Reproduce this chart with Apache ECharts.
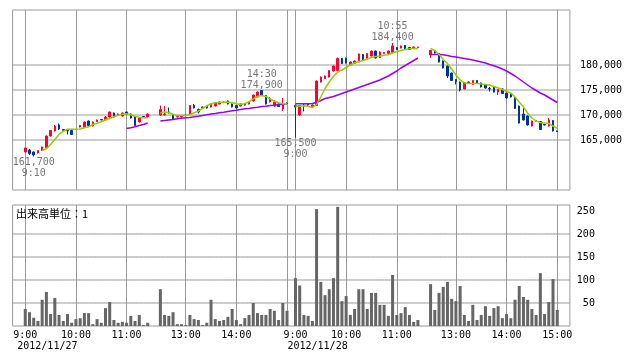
<!DOCTYPE html>
<html><head><meta charset="utf-8">
<script src="https://cdn.jsdelivr.net/npm/echarts@6/dist/echarts.min.js"></script>
<style>html,body{margin:0;padding:0;background:#fff}#c{width:638px;height:362px}</style>
</head><body><div id="c"></div>
<script>
// ---- data ----
const dates = ['2012/11/27', '2012/11/28'];
const sessionTimes = ['9:00','9:05','9:10','9:15','9:20','9:25','9:30','9:35','9:40','9:45','9:50','9:55',
  '10:00','10:05','10:10','10:15','10:20','10:25','10:30','10:35','10:40','10:45','10:50','10:55',
  '11:00','11:05','11:10','11:15','11:20','11:25','11:30','',
  '12:30','12:35','12:40','12:45','12:50','12:55',
  '13:00','13:05','13:10','13:15','13:20','13:25','13:30','13:35','13:40','13:45','13:50','13:55',
  '14:00','14:05','14:10','14:15','14:20','14:25','14:30','14:35','14:40','14:45','14:50','14:55','15:00'];
const hourMarks = ['9:00','10:00','11:00','13:00','14:00','15:00'];
const priceTicks = [165000, 170000, 175000, 180000];
const volumeTicks = [50, 100, 150, 200, 250];
const volumeGridTicks = [50, 100, 150, 200];

// [open, close, low, high]
const day1Ohlc = [
[162600,163400,162500,163500],[163000,162300,162000,163200],[162600,162000,161700,162700],[162400,162900,162300,163000],
[162900,163600,162800,163700],[163500,165800,163400,165900],[165800,166900,165700,167000],[166800,167800,166700,168000],
[168000,167200,167000,168300],[167100,166900,166800,167200],[166900,166800,166100,167000],[166900,166100,166000,167000],
[167100,167100,167100,167100],[167600,167900,167500,168000],[167500,168600,167400,168700],[168800,167900,167800,168900],
[167800,168600,167700,168700],[168700,169000,168600,169100],[169100,169000,168900,169100],[169000,169600,168900,169800],
[169600,170600,169500,170700],[170400,169600,169500,170500],[169900,170200,169800,170300],[169800,170400,169700,170500],
[170600,170200,170100,170700],[170200,169400,169300,170300],[169600,167900,167800,169700],[168600,169400,168500,169500],
[169700,169600,169500,169800],[169600,170200,169500,170300],
null,null,
[170000,171100,169800,171900],[170000,170200,169900,171800],[170600,170400,170300,171500],[170100,169200,169100,170200],
[169600,169700,169500,169800],[169600,169900,169500,170000],[169900,170000,169800,170100],[170200,171900,170100,172000],
[171900,171400,171300,172200],[171100,170600,170300,171300],[171600,171500,171400,171700],[171700,171400,171300,171800],
[171600,172200,171500,172300],[171800,172400,171700,172500],[172200,172600,172100,172700],[172500,172600,172400,172700],
[172800,172200,172100,172900],[172200,171600,171500,172300],[171900,171400,171300,172000],[171800,172200,171700,172300],
[172200,172000,171900,172300],[172200,172600,172100,172700],[172800,174000,172700,174100],[173600,174600,173500,174700],
[174900,173900,173800,174900],[173900,172200,172100,174000],[172600,173300,172500,173600],[171800,172600,171600,173000],
[172200,171700,171600,172300],[171200,172300,170800,173400],[172400,172300,172200,172500]];
const day2Ohlc = [
[171900,171600,165500,172100],[170000,171900,169800,172000],[172000,171800,170700,172400],[172300,172000,171700,172400],
[171600,172000,171500,172100],[171900,176800,171800,176900],[176600,177600,176500,177700],[177300,177800,177200,177900],
[177600,178900,177500,179000],[178800,179800,178700,179900],[178900,181300,178800,181500],[181300,180300,180200,181400],
[181300,180400,180300,181500],[180000,180600,179900,180700],[180300,180800,180200,180900],[180600,182200,180500,182300],
[182100,181100,181000,182200],[181200,182300,181100,182400],[181800,182800,181700,182900],[182800,181400,181300,182900],
[181500,182600,181400,182700],[182300,182500,182200,182600],[182300,182800,182200,182900],[182500,183800,182400,184400],
[183500,183100,183000,183600],[183400,183800,183300,183900],[183900,183300,183200,184000],[183500,183100,183000,183600],
[183300,183600,183200,183700],[183500,183600,183400,183700],
null,null,
[182000,182900,181400,183000],[182900,182400,182300,183000],[182300,180600,180500,182400],[180800,179400,179300,180900],
[179800,177800,177400,179900],[178400,176900,176800,178500],[177100,176700,176100,177200],[176600,175000,174700,176700],
[175200,176400,175100,176500],[176600,176500,176400,176700],[176100,176900,176000,177000],[176900,176400,176300,177000],
[176400,175600,175500,176500],[176100,175400,175300,176200],[175300,175200,174700,175600],[175600,174600,174500,175700],
[174600,175100,174000,175200],[175200,174300,174200,175300],[174400,173400,173300,174500],[174200,173600,173500,174300],
[173500,171300,171200,173600],[171800,168400,168300,171900],[170200,169000,168900,171500],[169800,168000,167900,169900],
[167800,168800,167700,168900],[168900,168800,168700,169000],[168700,167100,167000,168800],[168100,168000,167900,168200],
[167800,169000,167700,169400],[168900,166800,166700,169000],[166800,166700,166600,166900]];

const day1Volume = [37,30,18,11,57,74,26,61,24,11,26,7,15,17,28,28,4,15,7,39,52,13,7,9,7,22,11,24,2,7,null,null,
  80,24,22,30,4,4,2,24,15,13,2,7,57,15,11,13,20,37,13,4,17,24,50,28,24,24,37,33,13,50,33];
const day2Volume = [104,88,24,22,11,254,96,67,80,104,259,54,65,24,37,80,80,37,72,72,46,46,22,111,24,28,41,24,9,13,null,null,
  91,35,72,85,96,59,54,87,24,11,46,13,24,43,22,39,43,17,26,17,57,87,63,57,37,24,115,26,52,102,35];

const day1MaShort = [null,null,null,null,162900,163240,164100,165100,166100,166760,167160,167160,167160,167200,167440,167640,
  168100,168360,168640,169040,169300,169640,169960,170160,170240,170040,169760,169560,169440,169440,null,null,
  170400,170600,170500,170100,169900,169900,169900,170040,170440,170760,171300,171840,172240,172440,172560,172560,172560,
  172440,172240,172100,172240,172640,173240,173700,173900,173700,173240,172760,172440,172240,172240];
const day2MaShort = [171760,171760,171840,171760,171500,172100,173600,175300,176600,177700,178600,179000,179500,180000,
  180400,180700,180900,181200,181500,181700,181800,181960,182040,182400,182700,182900,183100,183240,183300,183300,null,null,
  183300,182900,182100,181100,180300,179200,178000,177000,176440,176300,176300,176300,176200,176100,176000,175700,175400,
  175100,174700,174400,173600,172600,171600,170400,169400,168800,168500,168400,168300,167800,167340];
const day1MaLong = [null,null,null,null,null,null,null,null,null,null,null,null,null,null,null,null,null,null,null,null,
  null,null,null,null,167300,167440,167640,167900,168100,168400,null,null,
  168800,168900,169000,169100,169240,169360,169440,169500,169640,169760,169900,170040,170200,170300,170440,170560,170700,
  170840,170960,171100,171240,171300,171440,171560,171700,171760,171900,171960,172100,172160,172240];
const day2MaLong = [172240,172240,172240,172240,172300,172500,172900,173300,173500,173700,174000,174300,174600,174900,
  175200,175500,175800,176100,176400,176700,177000,177400,177800,178300,178800,179400,179900,180400,180900,181400,null,null,
  182100,182100,182100,182040,181900,181700,181600,181440,181300,181160,181000,180800,180600,180400,180100,179840,179560,
  179200,178800,178300,177800,177200,176600,176000,175400,174900,174400,174000,173500,173000,172500];

const annotations = [
  {day: 0, time: '9:10', value: 161700, kind: 'low'},
  {day: 0, time: '14:30', value: 174900, kind: 'high'},
  {day: 1, time: '9:00', value: 165500, kind: 'low'},
  {day: 1, time: '10:55', value: 184400, kind: 'high'}
];

// ---- build ----
const PAD = 3;
const DAY_SLOTS = sessionTimes.length + 1; // one empty slot between days
const pad = () => new Array(PAD).fill(null);
const cats = [];
for (let i = 0; i < PAD; i++) cats.push('pad-a' + i);
sessionTimes.forEach((t, i) => cats.push('0|' + t + '|' + i));
cats.push('gap');
sessionTimes.forEach((t, i) => cats.push('1|' + t + '|' + i));
for (let i = 0; i < PAD; i++) cats.push('pad-b' + i);

const join = (a, b) => [...pad(), ...a, null, ...b, ...pad()];
const dash = v => (v == null ? '-' : v);
const ohlc = join(day1Ohlc, day2Ohlc).map(r => (r ? r : ['-', '-', '-', '-']));
const vol = join(day1Volume, day2Volume).map(dash);
const maS = join(day1MaShort, day2MaShort).map(dash);
const maL = join(day1MaLong, day2MaLong).map(dash);

const gridSet = new Set(), labelSet = new Set();
[0, 1].forEach(d => sessionTimes.forEach((t, i) => {
  if (!t || hourMarks.indexOf(t) < 0) return;
  const idx = PAD + d * DAY_SLOTS + i;
  gridSet.add(idx);
  if (!(t === '15:00' && d < dates.length - 1)) labelSet.add(idx);
}));
const dayOpenIdx = dates.map((_, d) => PAD + d * DAY_SLOTS + sessionTimes.indexOf('9:00'));

const fmt = v => String(v).replace(/\B(?=(\d{3})+(?!\d))/g, ',');
const GRID = '#999999';
const MONO = 'DejaVu Sans Mono';

const markData = annotations.map(a => {
  const idx = PAD + a.day * DAY_SLOTS + sessionTimes.indexOf(a.time);
  const low = a.kind === 'low';
  return {
    coord: [idx, a.value], value: a.value,
    label: {position: low ? 'bottom' : 'top', distance: 0,
      formatter: low ? fmt(a.value) + '\n' + a.time : a.time + '\n' + fmt(a.value)}
  };
});

// horizontal reference lines drawn as flat line series on each axis
const refLine = (axisIdx, v) => ({
  type: 'line', xAxisIndex: axisIdx, yAxisIndex: axisIdx, data: cats.map(() => v),
  showSymbol: false, silent: true, z: 1, lineStyle: {color: GRID, width: 1}, emphasis: {disabled: true}, tooltip: {show: false}
});

const chart = echarts.init(document.getElementById('c'));
const xBase = {
  type: 'category', data: cats, boundaryGap: false,
  axisLine: {show: false}, axisTick: {show: false},
  splitLine: {show: true, interval: (i) => gridSet.has(i), lineStyle: {color: GRID, width: 1}}
};
chart.setOption({
  animation: false,
  grid: [
    {left: 12.6, top: 10, width: 557.3, height: 180, show: true, borderColor: GRID, borderWidth: 1},
    {left: 12.6, top: 205, width: 557.3, height: 121, show: true, borderColor: GRID, borderWidth: 1}
  ],
  title: {text: '出来高単位：1', left: 16, top: 208, padding: 0,
    textStyle: {fontSize: 11, fontWeight: 'normal', color: '#000', fontFamily: 'Noto Sans CJK JP'}},
  xAxis: [
    Object.assign({}, xBase, {gridIndex: 0, axisLabel: {show: false}}),
    Object.assign({}, xBase, {gridIndex: 1, axisLabel: {show: true, interval: (i) => labelSet.has(i),
      formatter: (v) => v.split('|')[1], color: '#000', fontFamily: MONO, fontSize: 10, margin: 4}})
  ],
  yAxis: [
    {type: 'value', gridIndex: 0, position: 'right', min: 155000, max: 191000, interval: 5000,
      axisLine: {show: false}, axisTick: {show: false},
      axisLabel: {formatter: v => priceTicks.includes(v) ? fmt(v) : '', margin: 10, color: '#000', fontFamily: MONO, fontSize: 10},
      splitLine: {show: false}},
    {type: 'value', gridIndex: 1, position: 'right', min: 0, max: 263, interval: 50,
      axisLine: {show: false}, axisTick: {show: false},
      axisLabel: {formatter: v => volumeTicks.includes(v) ? String(v) : '', margin: 25, align: 'right', color: '#000', fontFamily: MONO, fontSize: 10},
      splitLine: {show: false}}
  ],
  series: [
    ...priceTicks.map(v => refLine(0, v)),
    ...volumeGridTicks.map(v => refLine(1, v)),
    {type: 'candlestick', xAxisIndex: 0, yAxisIndex: 0, data: ohlc, barWidth: 2, z: 3,
      itemStyle: {color: '#FF0033', color0: '#003399', borderColor: '#FF0033', borderColor0: '#003399', borderWidth: 1},
      markPoint: {symbol: 'circle', symbolSize: 0, silent: true,
        label: {show: true, color: '#777', fontFamily: MONO, fontSize: 10, lineHeight: 11},
        data: markData}},
    {type: 'line', xAxisIndex: 0, yAxisIndex: 0, data: maL, showSymbol: false, connectNulls: false, z: 4,
      lineStyle: {color: '#9900FF', width: 1.5}},
    {type: 'line', xAxisIndex: 0, yAxisIndex: 0, data: maS, showSymbol: false, connectNulls: false, z: 4,
      lineStyle: {color: '#99CC00', width: 1.5}},
    {type: 'bar', xAxisIndex: 1, yAxisIndex: 1, data: vol, barWidth: 3, z: 3, itemStyle: {color: '#666666'}}
  ]
});

const dateGraphics = dates.map((d, i) => {
  const x = chart.convertToPixel({xAxisIndex: 1}, dayOpenIdx[i]);
  return {type: 'text', left: x - 8, top: 341, style: {text: d, fill: '#000', font: '10px "' + MONO + '"'}};
});
chart.setOption({graphic: dateGraphics});
</script></body></html>
